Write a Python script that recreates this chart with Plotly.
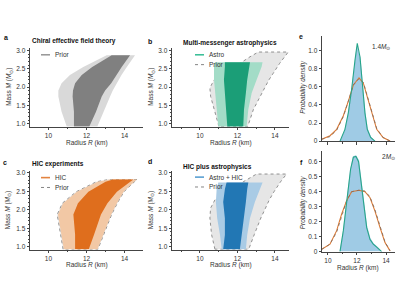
import plotly.graph_objects as go

# ---------------- data ----------------
# Panel a : chiral EFT
A_M = [0.93, 1.33, 1.75, 1.91, 2.11, 2.33, 2.55, 2.73, 2.87]
A_OUT_L = [10.96, 10.69, 10.52, 10.52, 10.69, 11.13, 11.83, 12.54, 13.06]
A_OUT_R = [12.57, 12.90, 13.24, 13.38, 13.58, 13.84, 14.12, 14.35, 14.55]
A_IN_L = [11.34, 11.34, 11.27, 11.29, 11.40, 11.75, 12.30, 12.88, 13.32]
A_IN_R = [12.15, 12.50, 12.80, 12.98, 13.30, 13.58, 13.85, 14.08, 14.29]

# Panel b : multi-messenger astrophysics
B_PM = [0.93, 1.39, 1.75, 1.98, 2.20, 2.38, 2.65, 2.83, 2.96]
B_PRIOR_L = [11.01, 10.75, 10.57, 10.53, 10.75, 11.16, 12.13, 12.67, 13.11]
B_PRIOR_R = [12.55, 12.85, 13.20, 13.45, 13.68, 13.91, 14.25, 14.50, 14.71]
B_M = [0.93, 1.39, 1.84, 2.20, 2.56, 2.68]
B_95_L = [10.98, 10.89, 10.80, 10.75, 10.75, 10.80]
B_95_R = [12.49, 12.58, 12.76, 13.02, 13.29, 13.34]
B_68_L = [11.46, 11.39, 11.33, 11.28, 11.33, 11.33]
B_68_R = [12.31, 12.35, 12.45, 12.52, 12.63, 12.67]

# Panel c : HIC experiments
C_M = [0.93, 1.33, 1.87, 2.18, 2.49, 2.76, 2.82]
C_PRIOR_L = [10.77, 10.64, 10.46, 10.73, 11.46, 12.52, 13.15]
C_PRIOR_R = [12.60, 12.92, 13.32, 13.62, 13.97, 14.52, 14.67]
C_95_L = [10.81, 10.68, 10.50, 10.77, 11.50, 12.58, 13.20]
C_95_R = [12.58, 12.90, 13.30, 13.60, 13.95, 14.50, 14.65]
C_68_L = [11.40, 11.40, 11.31, 11.55, 12.10, 13.00, 13.39]
C_68_R = [12.12, 12.40, 12.76, 13.10, 13.60, 14.30, 14.47]

# Panel d : HIC plus astrophysics
D_PM = [0.93, 1.33, 1.78, 2.05, 2.27, 2.49, 2.76, 2.97]
D_PRIOR_L = [10.80, 10.62, 10.53, 10.57, 10.80, 11.42, 12.31, 13.02]
D_PRIOR_R = [12.60, 12.90, 13.25, 13.50, 13.70, 13.95, 14.30, 14.62]
D_M = [0.93, 1.32, 1.77, 2.21, 2.56, 2.74]
D_95_L = [11.16, 11.07, 10.92, 10.85, 10.89, 10.98]
D_95_R = [12.45, 12.52, 12.67, 12.93, 13.20, 13.34]
D_68_L = [11.24, 11.33, 11.33, 11.24, 11.33, 11.42]
D_68_R = [12.13, 12.22, 12.35, 12.45, 12.52, 12.58]

# Panel e : 1.4 Msun radius distributions
E_AST_R = [10.83, 11.17, 11.40, 11.63, 11.86, 12.02, 12.21, 12.39, 12.55, 12.71, 12.94, 13.24]
E_AST = [0.00, 0.13, 0.31, 0.57, 0.89, 1.08, 0.93, 0.60, 0.31, 0.13, 0.04, 0.00]
E_BOTH_R = [10.85, 11.17, 11.40, 11.63, 11.86, 12.00, 12.21, 12.39, 12.55, 12.71, 12.94, 13.20]
E_BOTH = [0.00, 0.12, 0.30, 0.55, 0.86, 1.04, 0.92, 0.60, 0.32, 0.14, 0.05, 0.00]
E_HIC_R = [9.57, 10.14, 10.60, 11.06, 11.40, 11.75, 12.14, 12.44, 12.71, 13.01, 13.36, 13.80, 14.28]
E_HIC = [0.02, 0.06, 0.13, 0.28, 0.44, 0.62, 0.70, 0.64, 0.49, 0.31, 0.13, 0.04, 0.00]
E_PRIOR = [0.02, 0.05, 0.12, 0.27, 0.44, 0.62, 0.69, 0.65, 0.50, 0.32, 0.14, 0.04, 0.00]

# Panel f : 2 Msun radius distributions
F_AST_R = [10.83, 11.06, 11.24, 11.40, 11.56, 11.75, 11.93, 12.11, 12.32, 12.48, 12.67, 12.90, 13.12, 13.36, 13.59, 13.70]
F_AST = [0.00, 0.14, 0.29, 0.44, 0.55, 0.63, 0.635, 0.60, 0.44, 0.29, 0.16, 0.08, 0.05, 0.03, 0.005, 0.00]
F_BOTH = [0.00, 0.13, 0.28, 0.43, 0.55, 0.635, 0.64, 0.61, 0.45, 0.30, 0.17, 0.09, 0.055, 0.035, 0.01, 0.00]
F_HIC_R = [9.57, 10.14, 10.60, 10.94, 11.29, 11.63, 12.14, 12.55, 12.90, 13.24, 13.59, 13.93, 14.28]
F_HIC = [0.015, 0.05, 0.14, 0.25, 0.34, 0.40, 0.41, 0.40, 0.36, 0.27, 0.16, 0.06, 0.005]
F_PRIOR = [0.015, 0.05, 0.13, 0.24, 0.34, 0.40, 0.41, 0.405, 0.365, 0.28, 0.17, 0.065, 0.005]

# ---------------- styling ----------------
FONT = "Liberation Sans, Arial, sans-serif"
W, H = 400, 300

def px(x):
    return x / W

def py(y):
    return 1 - y / H

fig = go.Figure()

def band(M, L, R, color, xa, ya, line=None):
    xs = list(L) + list(R)[::-1] + [L[0]]
    ys = list(M) + list(M)[::-1] + [M[0]]
    fig.add_trace(go.Scatter(
        x=xs, y=ys, fill="toself", fillcolor=color, mode="lines",
        line=line if line else dict(width=0, color=color),
        xaxis=xa, yaxis=ya, hoverinfo="skip", showlegend=False))

PRIOR_LINE = dict(color="#777777", width=0.8, dash="dot")

# a
band(A_M, A_OUT_L, A_OUT_R, "#d9d9d9", "x", "y")
band(A_M, A_IN_L, A_IN_R, "#808080", "x", "y")
# b
band(B_PM, B_PRIOR_L, B_PRIOR_R, "#e6e6e6", "x2", "y2", PRIOR_LINE)
band(B_M, B_95_L, B_95_R, "#a3dcc7", "x2", "y2")
band(B_M, B_68_L, B_68_R, "#1b9e77", "x2", "y2")
# c
band(C_M, C_PRIOR_L, C_PRIOR_R, "#e6e6e6", "x3", "y3", PRIOR_LINE)
band(C_M, C_95_L, C_95_R, "#f2c8a5", "x3", "y3")
band(C_M, C_68_L, C_68_R, "#df6e1d", "x3", "y3")
# d
band(D_PM, D_PRIOR_L, D_PRIOR_R, "#e6e6e6", "x4", "y4", PRIOR_LINE)
band(D_M, D_95_L, D_95_R, "#a9cbe5", "x4", "y4")
band(D_M, D_68_L, D_68_R, "#2277b4", "x4", "y4")

# e
fig.add_trace(go.Scatter(x=E_BOTH_R, y=E_BOTH, fill="tozeroy", fillcolor="#9fcbe5",
                         mode="lines", line=dict(width=0.6, color="#8dbedc"),
                         xaxis="x5", yaxis="y5", showlegend=False, hoverinfo="skip"))
fig.add_trace(go.Scatter(x=E_HIC_R, y=E_HIC, mode="lines", line=dict(color="#dc7a35", width=1.1),
                         xaxis="x5", yaxis="y5", showlegend=False, hoverinfo="skip"))
fig.add_trace(go.Scatter(x=E_HIC_R, y=E_PRIOR, mode="lines", line=dict(color="#7a6a60", width=0.8, dash="dot"),
                         xaxis="x5", yaxis="y5", showlegend=False, hoverinfo="skip"))
fig.add_trace(go.Scatter(x=E_AST_R, y=E_AST, mode="lines", line=dict(color="#27a58a", width=1.1),
                         xaxis="x5", yaxis="y5", showlegend=False, hoverinfo="skip"))
# f
fig.add_trace(go.Scatter(x=F_AST_R, y=F_BOTH, fill="tozeroy", fillcolor="#9fcbe5",
                         mode="lines", line=dict(width=0.6, color="#8dbedc"),
                         xaxis="x6", yaxis="y6", showlegend=False, hoverinfo="skip"))
fig.add_trace(go.Scatter(x=F_HIC_R, y=F_HIC, mode="lines", line=dict(color="#dc7a35", width=1.1),
                         xaxis="x6", yaxis="y6", showlegend=False, hoverinfo="skip"))
fig.add_trace(go.Scatter(x=F_HIC_R, y=F_PRIOR, mode="lines", line=dict(color="#7a6a60", width=0.8, dash="dot"),
                         xaxis="x6", yaxis="y6", showlegend=False, hoverinfo="skip"))
fig.add_trace(go.Scatter(x=F_AST_R, y=F_AST, mode="lines", line=dict(color="#27a58a", width=1.1),
                         xaxis="x6", yaxis="y6", showlegend=False, hoverinfo="skip"))

TICKFONT = dict(family=FONT, size=6.5, color="#333333")

def xax(dom, rng, anchor, labels=True):
    return dict(domain=[px(dom[0]), px(dom[1])], range=rng, anchor=anchor,
                showline=True, linecolor="#444444", linewidth=0.8,
                ticks="outside", ticklen=2.5, tickwidth=0.7, tickcolor="#444444",
                tickvals=[10, 12, 14], showticklabels=labels,
                minor=dict(tickvals=[9, 11, 13], ticklen=1.5, tickcolor="#444444", ticks="outside"),
                showgrid=False, zeroline=False, tickfont=TICKFONT, fixedrange=True)

def yax(dom, rng, anchor, dtick, mdtick, fmt):
    return dict(domain=[py(dom[1]), py(dom[0])], range=rng, anchor=anchor,
                showline=True, linecolor="#444444", linewidth=0.8,
                ticks="outside", ticklen=2.5, tickwidth=0.7, tickcolor="#444444",
                dtick=dtick, tick0=0, tickformat=fmt,
                minor=dict(dtick=mdtick, ticklen=1.5, tickcolor="#444444", ticks="outside") if mdtick else None,
                showgrid=False, zeroline=False, tickfont=TICKFONT, fixedrange=True)

MR = [0.92, 3.06]
fig.update_layout(
    width=W, height=H, margin=dict(l=0, r=0, t=0, b=0),
    paper_bgcolor="white", plot_bgcolor="white",
    font=dict(family=FONT, size=6.5, color="#333333"),
    xaxis=xax((30, 143), [9.03, 14.97], "y"),
    yaxis=yax((48, 127.5), MR, "x", 0.5, 0.1, ".1f"),
    xaxis2=xax((172, 289), [8.51, 14.75], "y2"),
    yaxis2=yax((48, 127.5), MR, "x2", 0.5, 0.1, ".1f"),
    xaxis3=xax((30, 143), [9.03, 14.97], "y3"),
    yaxis3=yax((172, 252), MR, "x3", 0.5, 0.1, ".1f"),
    xaxis4=xax((172, 289), [8.51, 14.75], "y4"),
    yaxis4=yax((172, 252), MR, "x4", 0.5, 0.1, ".1f"),
    xaxis5=xax((322, 395), [9.59, 14.62], "y5", labels=False),
    yaxis5=yax((35, 142), [0, 1.167], "x5", 0.2, None, ".1f"),
    xaxis6=xax((322, 395), [9.59, 14.62], "y6"),
    yaxis6=yax((152, 254), [0, 0.672], "x6", 0.1, None, ".1f"),
)
fig.layout.yaxis5.tickvals = [0, 0.2, 0.4, 0.6, 0.8, 1.0]
fig.layout.yaxis5.ticktext = ["0", "0.2", "0.4", "0.6", "0.8", "1.0"]
fig.layout.yaxis6.tickvals = [0, 0.1, 0.2, 0.3, 0.4, 0.5, 0.6]
fig.layout.yaxis6.ticktext = ["0", "0.1", "0.2", "0.3", "0.4", "0.5", "0.6"]

ann = []

def text(x, y, s, size=6.5, xanchor="left", yanchor="middle", angle=0, bold=False, color="#333333"):
    ann.append(dict(x=px(x), y=py(y), xref="paper", yref="paper", text=(f"<b>{s}</b>" if bold else s),
                    showarrow=False, xanchor=xanchor, yanchor=yanchor, textangle=angle,
                    font=dict(family=FONT, size=size, color=color)))

# panel letters
for (x, y, s) in [(6, 37, "a"), (150, 41, "b"), (5, 164, "c"), (150, 163, "d"), (301, 36, "e"), (301, 164, "f")]:
    text(x, y, s, size=7, xanchor="center", bold=True, color="#111111")
# titles
text(30, 41, "Chiral effective field theory", size=6.5, bold=True, color="#111111")
text(181, 43, "Multi-messenger astrophysics", size=6.5, bold=True, color="#111111")
text(30, 165, "HIC experiments", size=6.5, bold=True, color="#111111")
text(181, 168, "HIC plus astrophysics", size=6.5, bold=True, color="#111111")

MASS = "Mass <i>M</i> (<i>M</i><sub>⊙</sub>)"
RAD = "Radius <i>R</i> (km)"
for (x, y) in [(9, 87), (151, 87), (8, 212), (151, 212)]:
    text(x, y, MASS, xanchor="center", angle=-90)
for (x, y) in [(87, 143.5), (231, 143.5), (87, 268), (231, 268), (358, 270.5)]:
    text(x, y, RAD, xanchor="center")
for (x, y) in [(303, 88), (303, 205)]:
    text(x, y, "<i>Probability density</i>", xanchor="center", angle=-90)
text(370, 47, "1.4<i>M</i><sub>⊙</sub>", size=6.5)
text(380, 158, "2<i>M</i><sub>⊙</sub>", size=6.5)

shapes = []

def leg(x, y, s, color, dash="solid", width=1.6):
    shapes.append(dict(type="line", xref="paper", yref="paper", x0=px(x), x1=px(x + 9), y0=py(y), y1=py(y),
                       line=dict(color=color, width=width, dash=dash)))
    text(x + 12, y, s)

leg(41, 54.5, "Prior", "#9a9a9a")
leg(195, 54.5, "Astro", "#3cbf98")
leg(195, 64.5, "Prior", "#777777", "dot", 0.9)
leg(41, 179, "HIC", "#e38440")
leg(41, 189, "Prior", "#777777", "dot", 0.9)
leg(195, 178.5, "Astro + HIC", "#5aa0d2")
leg(195, 188.5, "Prior", "#777777", "dot", 0.9)

fig.update_layout(annotations=ann, shapes=shapes)
fig.write_html("out.html", config={"displayModeBar": False},
               post_script="document.body.style.margin='0';document.body.style.padding='0';")
